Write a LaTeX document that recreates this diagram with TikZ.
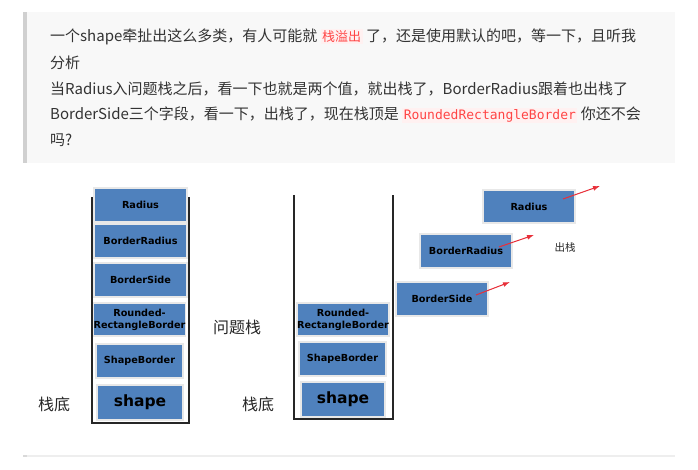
\documentclass[tikz,border=0pt]{standalone}
\usepackage{fontspec}
\usepackage{xcolor}
\usetikzlibrary{arrows.meta}
\newfontfamily\cjk{Noto Sans CJK SC}
\newfontfamily\boxfont{DejaVu Sans}
\newfontfamily\codefont{DejaVu Sans Mono}
\definecolor{bgc}{HTML}{F8F8F8}
\definecolor{barc}{HTML}{D0D0D0}
\definecolor{txtc}{HTML}{333333}
\definecolor{codered}{HTML}{FF4545}
\definecolor{codebg}{HTML}{FFF1F1}
\definecolor{boxblue}{HTML}{4F81BD}
\definecolor{arrred}{HTML}{E8303A}
\definecolor{sepc}{HTML}{EEEEEE}
\newcommand{\mycode}[1]{{\setlength{\fboxsep}{1.5pt}\colorbox{codebg}{\textcolor{codered}{#1}}}}
\begin{document}
\begin{tikzpicture}[x=1pt,y=-1pt,
  para/.style={anchor=west,inner sep=0pt,text=txtc,font=\cjk\fontsize{15}{15}\selectfont},
  blk/.style={draw=white!82!gray,line width=1.1pt,fill=boxblue,inner sep=0pt,align=center,
    font=\boxfont\bfseries\fontsize{9.7}{12}\selectfont,text=black},
  big/.style={font=\boxfont\bfseries\fontsize{15.5}{16}\selectfont},
  wall/.style={draw=black!85,line width=1.1pt},
  lbl/.style={inner sep=0pt,text=black!85,font=\cjk\fontsize{16}{16}\selectfont},
  pop/.style={-{Latex[length=7pt,width=5pt]},draw=arrred,fill=arrred,line width=1pt}
]
\useasboundingbox (0,0) rectangle (698,470);
% quote box
\fill[bgc] (23,12) rectangle (675,163);
\fill[barc] (23,12) rectangle (27,163);
\node[para] (l1) at (50,37) {一个shape牵扯出这么多类，有人可能就 \mycode{\fontsize{13}{13}\selectfont 栈溢出} 了，还是使用默认的吧，等一下，且听我};
\node[para] (l2) at (50,63) {分析};
\node[para] (l3) at (50,89) {当Radius入问题栈之后，看一下也就是两个值，就出栈了，BorderRadius跟着也出栈了};
\node[para] (l4) at (50,115) {BorderSide三个字段，看一下，出栈了，现在栈顶是 \mycode{\codefont\fontsize{13}{13}\selectfont RoundedRectangleBorder} 你还不会};
\node[para] (l5) at (50,140) {吗?};
% left stack
\coordinate (aTL) at (92,197);
\coordinate (aBL) at (92,423);
\coordinate (aBR) at (189,423);
\coordinate (aTR) at (189,197);
\draw[wall] (aTL) -- (aBL) -- (aBR) -- (aTR);
\node[blk,minimum width=93pt,minimum height=34pt] (a1) at (140.5,205) {Radius};
\node[blk,minimum width=93pt,minimum height=34pt] (a2) at (140.5,241) {BorderRadius};
\node[blk,minimum width=93pt,minimum height=34pt] (a3) at (140.5,280) {BorderSide};
\node[blk,minimum width=91pt,minimum height=33pt] (a4) at (139.5,319.5) {Rounded-\\RectangleBorder};
\node[blk,minimum width=87pt,minimum height=34pt] (a5) at (139.5,361) {ShapeBorder};
\node[blk,big,minimum width=86pt,minimum height=35pt] (a6) at (140,402.5) {shape};
\node[lbl] (ql) at (237,327) {问题栈};
\node[lbl] (bl1) at (54,404) {栈底};
% right stack
\coordinate (bTL) at (294,195);
\coordinate (bBL) at (294,419);
\coordinate (bBR) at (393,419);
\coordinate (bTR) at (393,195);
\draw[wall] (bTL) -- (bBL) -- (bBR) -- (bTR);
\node[blk,minimum width=92pt,minimum height=33pt] (b4) at (343,319.5) {Rounded-\\RectangleBorder};
\node[blk,minimum width=87pt,minimum height=34pt] (b5) at (342.5,359) {ShapeBorder};
\node[blk,big,minimum width=84pt,minimum height=35pt] (b6) at (343,399.5) {shape};
\node[lbl] (bl2) at (258,404) {栈底};
% popped
\node[blk,minimum width=92pt,minimum height=33pt] (p1) at (529,206.5) {Radius};
\node[blk,minimum width=92pt,minimum height=34pt] (p2) at (466,251) {BorderRadius};
\node[blk,minimum width=92pt,minimum height=34pt] (p3) at (442,299) {BorderSide};
\node[inner sep=0pt,text=black!85,font=\cjk\fontsize{10.5}{11}\selectfont] (out) at (565,248) {出栈};
\coordinate (s1) at (563,199); \coordinate (e1) at (600,186);
\coordinate (s2) at (499,247); \coordinate (e2) at (534,235);
\coordinate (s3) at (476,295); \coordinate (e3) at (510,282);
\draw[pop] (s1) -- (e1);
\draw[pop] (s2) -- (e2);
\draw[pop] (s3) -- (e3);
% separator
\fill[sepc] (23,455) rectangle (675,457);
\fill[black!15] (23,455) rectangle (27,457);
\end{tikzpicture}
\end{document}
